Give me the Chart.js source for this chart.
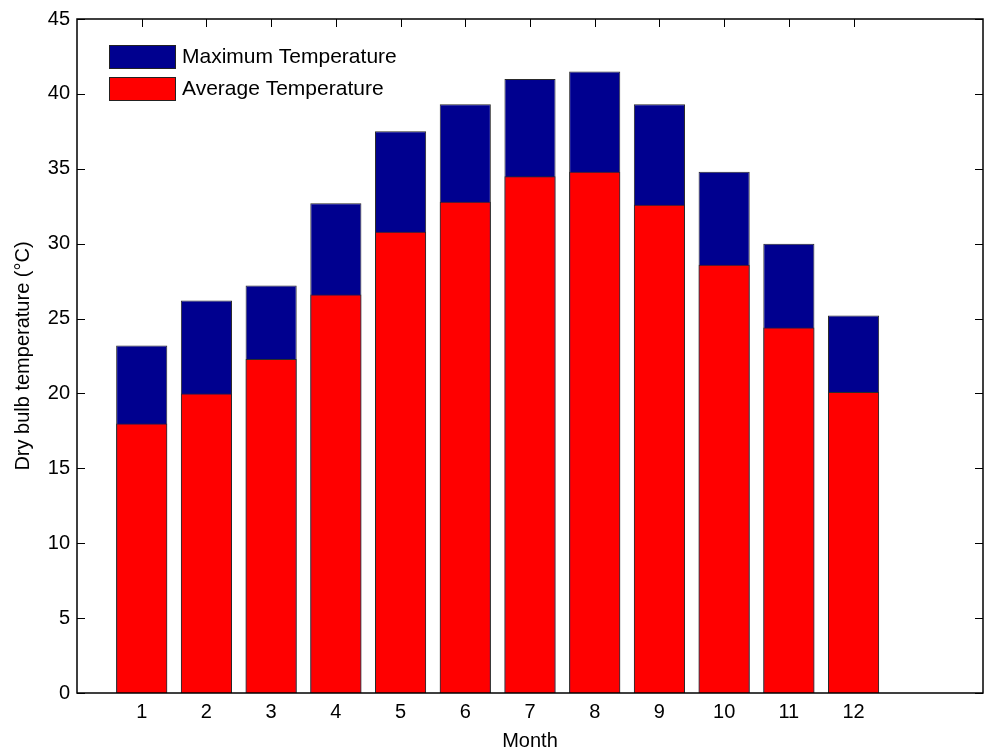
<!DOCTYPE html>
<html>
<head>
<meta charset="utf-8">
<script src="https://cdn.jsdelivr.net/npm/chart.js@4"></script>
<style>
  body { margin: 0; background: #fff; }
</style>
</head>
<body>
<canvas id="barChart" width="988" height="756"></canvas>
<script>
const months = [1, 2, 3, 4, 5, 6, 7, 8, 9, 10, 11, 12];
const maxTemp = [23.2, 26.2, 27.2, 32.7, 37.5, 39.3, 41.0, 41.5, 39.3, 34.8, 30.0, 25.2];
const avgTemp = [18.0, 20.0, 22.3, 26.6, 30.8, 32.8, 34.5, 34.8, 32.6, 28.6, 24.4, 20.1];
const yTickValues = [0, 5, 10, 15, 20, 25, 30, 35, 40, 45];

const seriesNames = ["Maximum Temperature", "Average Temperature"];

Chart.defaults.font.family = "'Liberation Sans', Arial, sans-serif";
Chart.defaults.font.size = 20;
Chart.defaults.color = "#000";

// tick marks drawn inside the box, like matlab
const insideTicks = {
  id: "insideTicks",
  beforeDatasetsDraw(chart) {
    const { ctx, chartArea: a, scales } = chart;
    ctx.save();
    ctx.strokeStyle = "#000";
    ctx.lineWidth = 1;
    ctx.beginPath();
    scales.y.ticks.forEach((t) => {
      const py = Math.round(scales.y.getPixelForValue(t.value)) + 0.5;
      ctx.moveTo(a.left, py);
      ctx.lineTo(a.left + 8, py);
      ctx.moveTo(a.right, py);
      ctx.lineTo(a.right - 8, py);
    });
    scales.x.ticks.forEach((t) => {
      const px = Math.round(scales.x.getPixelForValue(t.value)) + 0.5;
      ctx.moveTo(px, a.top);
      ctx.lineTo(px, a.top + 8);
      ctx.moveTo(px, a.bottom);
      ctx.lineTo(px, a.bottom - 8);
    });
    ctx.stroke();
    ctx.restore();
  },
  afterDatasetsDraw(chart) {
    const { ctx, chartArea: a } = chart;
    ctx.save();
    ctx.strokeStyle = "#000";
    ctx.lineWidth = 1.5;
    ctx.strokeRect(a.left, a.top, a.right - a.left, a.bottom - a.top);
    ctx.restore();
  },
};

// legend in the top left corner of the plot
const boxLegend = {
  id: "boxLegend",
  afterDraw(chart) {
    const { ctx, chartArea: a } = chart;
    const ds = chart.data.datasets;
    ctx.save();
    ctx.font = "21px 'Liberation Sans', Arial, sans-serif";
    ctx.textBaseline = "middle";
    ds.forEach((d, i) => {
      const bx = a.left + 32;
      const by = a.top + 26 + i * 32;
      ctx.fillStyle = d.backgroundColor;
      ctx.fillRect(bx, by, 67, 24);
      ctx.strokeStyle = "#222";
      ctx.lineWidth = 1;
      ctx.strokeRect(bx + 0.5, by + 0.5, 66, 23);
      ctx.fillStyle = "#000";
      ctx.fillText(d.label, bx + 73, by + 12);
    });
    ctx.restore();
  },
};

const ctx = document.getElementById("barChart").getContext("2d");
const myBarChart = new Chart(ctx, {
  type: "bar",
  data: {
    datasets: [
      {
        label: seriesNames[0],
        data: months.map((m, i) => ({ x: m, y: maxTemp[i] })),
        backgroundColor: "#00008F",
        borderColor: "#2a2a2a",
        borderWidth: 1,
        order: 1,
      },
      {
        label: seriesNames[1],
        data: months.map((m, i) => ({ x: m, y: avgTemp[i] })),
        backgroundColor: "#FF0000",
        borderColor: "#2a2a2a",
        borderWidth: 1,
        order: 0,
      },
    ],
  },
  options: {
    responsive: false,
    animation: false,
    grouped: false,
    categoryPercentage: 1,
    barPercentage: 0.79,
    layout: {
      padding: { top: 16, right: 5, left: 0, bottom: 0 },
    },
    plugins: {
      legend: { display: false },
      tooltip: { enabled: false },
    },
    scales: {
      x: {
        type: "linear",
        min: 0,
        max: 14,
        offset: false,
        grid: { display: false, drawTicks: false, offset: false },
        border: { display: false },
        afterBuildTicks: (scale) => {
          scale.ticks = months.map((m) => ({ value: m }));
        },
        afterFit: (scale) => {
          scale.height = 63;
        },
        ticks: {
          padding: 7,
          maxRotation: 0,
        },
        title: {
          display: true,
          text: "Month",
          padding: { top: 0, bottom: 3 },
        },
      },
      y: {
        min: 0,
        max: 45,
        grid: { display: false, drawTicks: false },
        border: { display: false },
        afterBuildTicks: (scale) => {
          scale.ticks = yTickValues.map((v) => ({ value: v }));
        },
        afterFit: (scale) => {
          scale.width = 77;
        },
        ticks: {
          padding: 7,
        },
        title: {
          display: true,
          text: "Dry bulb temperature (°C)",
          padding: { top: 11, bottom: 0 },
        },
      },
    },
  },
  plugins: [insideTicks, boxLegend],
});
</script>
</body>
</html>
